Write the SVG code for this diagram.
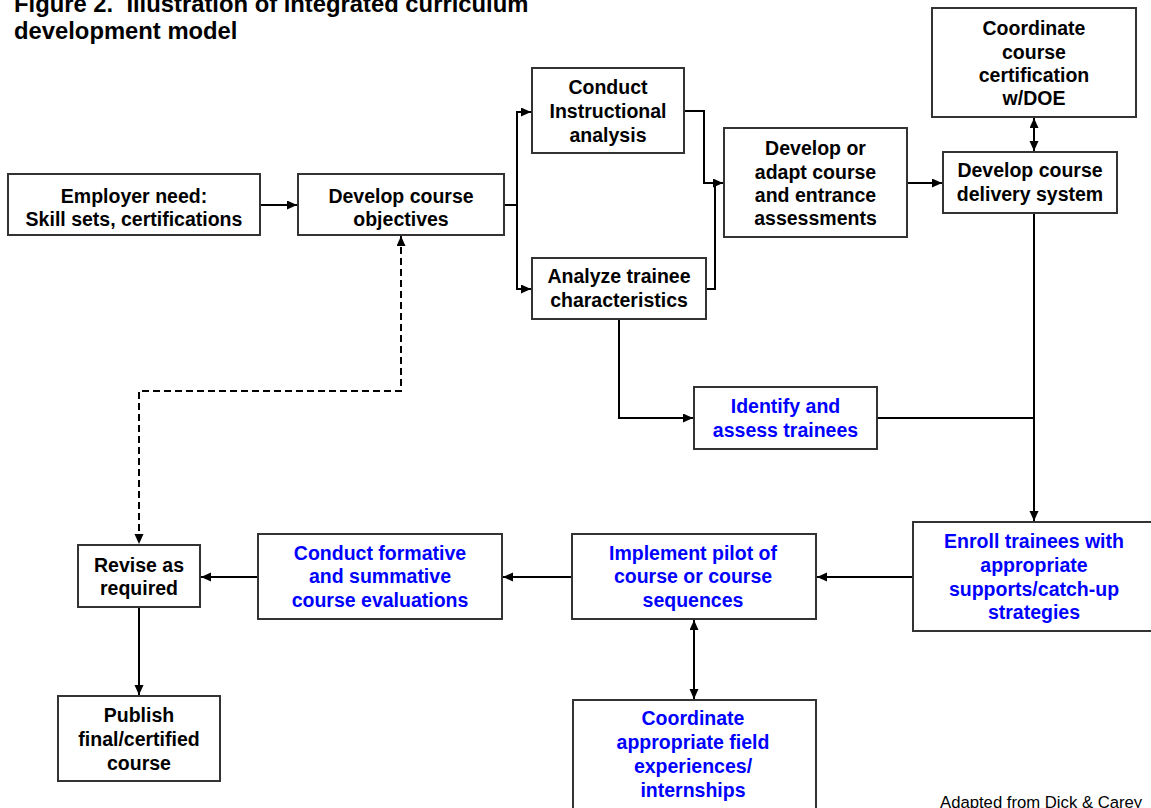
<svg xmlns="http://www.w3.org/2000/svg" width="1151" height="808" viewBox="0 0 1151 808">
<style>
.box{fill:#fff;stroke:#333;stroke-width:2}
.t{font-family:"Liberation Sans",Arial,sans-serif;font-weight:bold;font-size:19.5px;text-anchor:middle;fill:#000}
.b{fill:#0000ff}
.title{font-family:"Liberation Sans",Arial,sans-serif;font-weight:bold;font-size:23.8px;fill:#000;white-space:pre}
.note{font-family:"Liberation Sans",Arial,sans-serif;font-size:16.7px;fill:#000}
.ln{fill:none;stroke:#000;stroke-width:2}
.dash{stroke-dasharray:7,4}
</style>
<defs>
<marker id="ah" markerUnits="userSpaceOnUse" markerWidth="11" markerHeight="10" refX="10" refY="4.5" orient="auto-start-reverse">
<path d="M0,0 L10,4.5 L0,9 z" fill="#000"/>
</marker>
</defs>
<rect width="1151" height="808" fill="#fff"/>
<text class="title" x="14" y="12" xml:space="preserve">Figure 2.  Illustration of integrated curriculum</text>
<text class="title" x="14" y="39">development model</text>

<g id="connectors">
<path class="ln" d="M260,205 H297" marker-end="url(#ah)"/>
<path class="ln" d="M504,205 H517"/>
<path class="ln" d="M517,205 V112 H531" marker-end="url(#ah)"/>
<path class="ln" d="M517,205 V289 H531" marker-end="url(#ah)"/>
<path class="ln" d="M684,111 H704 V183 H723" marker-end="url(#ah)"/>
<path class="ln" d="M706,289 H715 V183"/>
<path class="ln" d="M907,183 H942" marker-end="url(#ah)"/>
<path class="ln" d="M1034,118 V151" marker-start="url(#ah)" marker-end="url(#ah)"/>
<path class="ln" d="M1034,213 V521" marker-end="url(#ah)"/>
<path class="ln" d="M619,319 V418 H693" marker-end="url(#ah)"/>
<path class="ln" d="M877,418 H1034"/>
<path class="ln" d="M912,577 H817" marker-end="url(#ah)"/>
<path class="ln" d="M572,577 H503" marker-end="url(#ah)"/>
<path class="ln" d="M258,577 H201" marker-end="url(#ah)"/>
<path class="ln" d="M694,620 V699" marker-start="url(#ah)" marker-end="url(#ah)"/>
<path class="ln" d="M139,607 V695" marker-end="url(#ah)"/>
<path class="ln dash" d="M401,236 V391 H139 V544" marker-start="url(#ah)" marker-end="url(#ah)"/>
</g>

<g id="employer">
<rect class="box" x="8" y="174" width="252" height="61"/>
<text class="t" x="134" y="203">Employer need:</text>
<text class="t" x="134" y="226">Skill sets, certifications</text>
</g>
<g id="objectives">
<rect class="box" x="298" y="174" width="206" height="61"/>
<text class="t" x="401" y="203">Develop course</text>
<text class="t" x="401" y="226">objectives</text>
</g>
<g id="instructional">
<rect class="box" x="532" y="68" width="152" height="85"/>
<text class="t" x="608" y="94">Conduct</text>
<text class="t" x="608" y="118">Instructional</text>
<text class="t" x="608" y="142">analysis</text>
</g>
<g id="analyze">
<rect class="box" x="532" y="258" width="174" height="61"/>
<text class="t" x="619" y="283">Analyze trainee</text>
<text class="t" x="619" y="307">characteristics</text>
</g>
<g id="adapt">
<rect class="box" x="724" y="128" width="183" height="109"/>
<text class="t" x="815.5" y="155">Develop or</text>
<text class="t" x="815.5" y="179">adapt course</text>
<text class="t" x="815.5" y="202">and entrance</text>
<text class="t" x="815.5" y="225">assessments</text>
</g>
<g id="certification">
<rect class="box" x="932" y="8" width="204" height="109"/>
<text class="t" x="1034" y="35">Coordinate</text>
<text class="t" x="1034" y="59">course</text>
<text class="t" x="1034" y="82">certification</text>
<text class="t" x="1034" y="105">w/DOE</text>
</g>
<g id="delivery">
<rect class="box" x="943" y="152" width="174" height="61"/>
<text class="t" x="1030" y="177">Develop course</text>
<text class="t" x="1030" y="201">delivery system</text>
</g>
<g id="identify">
<rect class="box" x="694" y="387" width="183" height="62"/>
<text class="t b" x="785.5" y="413">Identify and</text>
<text class="t b" x="785.5" y="437">assess trainees</text>
</g>
<g id="enroll">
<rect class="box" x="913" y="522" width="240" height="109"/>
<text class="t b" x="1034" y="548">Enroll trainees with</text>
<text class="t b" x="1034" y="572">appropriate</text>
<text class="t b" x="1034" y="596">supports/catch-up</text>
<text class="t b" x="1034" y="619">strategies</text>
</g>
<g id="pilot">
<rect class="box" x="572" y="534" width="244" height="85"/>
<text class="t b" x="693" y="560">Implement pilot of</text>
<text class="t b" x="693" y="583">course or course</text>
<text class="t b" x="693" y="607">sequences</text>
</g>
<g id="field">
<rect class="box" x="573" y="700" width="243" height="120"/>
<text class="t b" x="693" y="725">Coordinate</text>
<text class="t b" x="693" y="749">appropriate field</text>
<text class="t b" x="693" y="773">experiences/</text>
<text class="t b" x="693" y="797">internships</text>
</g>
<g id="evaluations">
<rect class="box" x="258" y="534" width="244" height="85"/>
<text class="t b" x="380" y="560">Conduct formative</text>
<text class="t b" x="380" y="583">and summative</text>
<text class="t b" x="380" y="607">course evaluations</text>
</g>
<g id="revise">
<rect class="box" x="78" y="545" width="122" height="62"/>
<text class="t" x="139" y="572">Revise as</text>
<text class="t" x="139" y="595">required</text>
</g>
<g id="publish">
<rect class="box" x="58" y="696" width="162" height="85"/>
<text class="t" x="139" y="722">Publish</text>
<text class="t" x="139" y="746">final/certified</text>
<text class="t" x="139" y="770">course</text>
</g>
<text class="note" x="940" y="808">Adapted from Dick &amp; Carey</text>
</svg>
